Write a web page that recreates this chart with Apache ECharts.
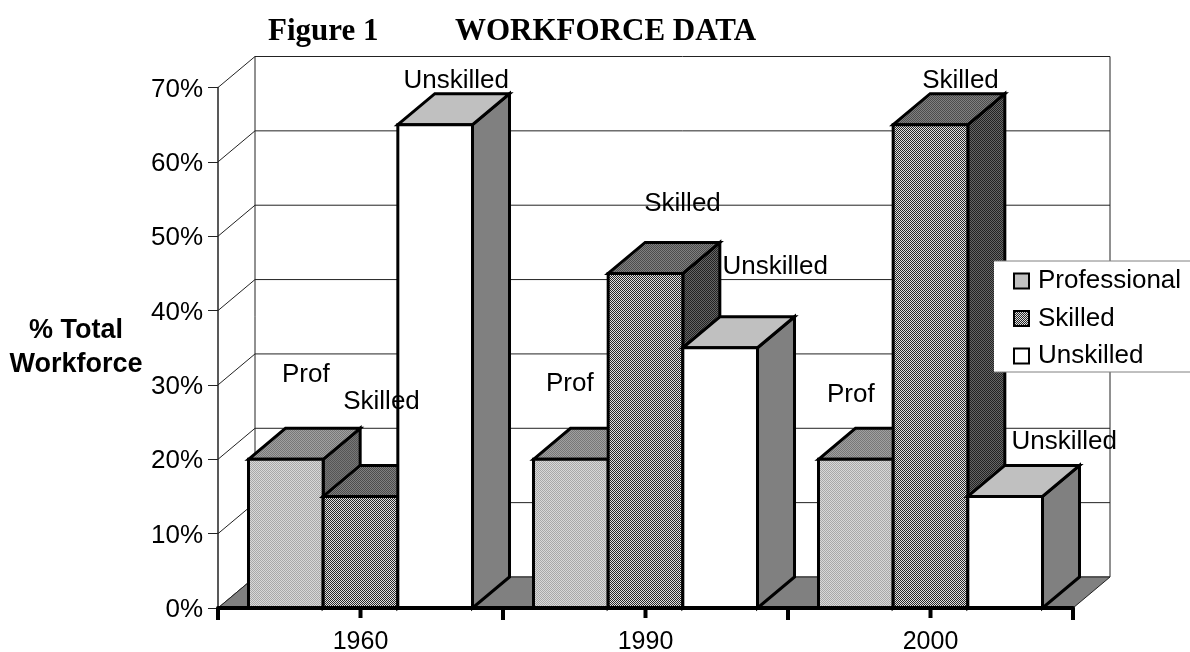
<!DOCTYPE html>
<html>
<head>
<meta charset="utf-8">
<title>Workforce data</title>
<style>
  html, body { margin: 0; padding: 0; background: #fff; }
  #chart { width: 1190px; height: 652px; }
</style>
</head>
<body>
<div id="chart"></div>
<script src="https://cdn.jsdelivr.net/npm/echarts@6/dist/echarts.min.js"></script>
<script>
// data
var years = ['1960', '1990', '2000'];
var seriesNames = ['Professional', 'Skilled', 'Unskilled'];
var professional = [20, 20, 20];
var skilled = [15, 45, 65];
var unskilled = [65, 35, 15];
var labelNames = ['Prof', 'Skilled', 'Unskilled'];
var percentTicks = [0, 10, 20, 30, 40, 50, 60, 70];

// 3d depth of the box, in px
var DEPTH_X = 37;
var DEPTH_Y = -31;
var FONT = '"Liberation Sans", Arial, sans-serif';
var SERIF = '"Liberation Serif", serif';

// hand placed labels, same order as the series: offset from bar's top centre
var labelOffsets = [
  [[20, -84], [-1, -75], [-5, -64]],
  [[21, -95], [37, -70], [30, -44]],
  [[21, -44], [55, -81], [59, -55]]
];

function dither(a, b, size) {
  // checker tile, used for the old office style hatch fills
  var c = document.createElement('canvas');
  c.width = c.height = size * 2;
  var ctx = c.getContext('2d');
  ctx.fillStyle = a;
  ctx.fillRect(0, 0, size * 2, size * 2);
  ctx.fillStyle = b;
  ctx.fillRect(0, 0, size, size);
  ctx.fillRect(size, size, size, size);
  return { image: c, repeat: 'repeat' };
}

var faces = [
  { front: dither('#d8d8d8', '#a8a8a8', 1), top: dither('#a0a0a0', '#777777', 1), side: dither('#777777', '#555555', 1) },
  { front: dither('#e0e0e0', '#282828', 1), top: dither('#808080', '#4c4c4c', 1), side: dither('#666666', '#222222', 1) },
  { front: '#ffffff', top: '#c0c0c0', side: '#808080' }
];

function poly(points, fill) {
  return {
    type: 'polygon',
    shape: { points: points },
    style: { fill: fill, stroke: '#000', lineWidth: 3, lineJoin: 'miter' }
  };
}

function barRenderer(seriesIdx) {
  return function (params, api) {
    var i = api.value(0);
    var base = api.coord([i, 0]);
    var top = api.coord([i, api.value(1)]);
    var w = api.size([1, 0])[0] * 0.262;
    var l = base[0] + (seriesIdx - 1.5) * w;
    var r = l + w;
    var f = faces[seriesIdx];
    return {
      type: 'group',
      children: [
        poly([[r, top[1]], [r + DEPTH_X, top[1] + DEPTH_Y], [r + DEPTH_X, base[1] + DEPTH_Y], [r, base[1]]], f.side),
        poly([[l, top[1]], [l + DEPTH_X, top[1] + DEPTH_Y], [r + DEPTH_X, top[1] + DEPTH_Y], [r, top[1]]], f.top),
        poly([[l, top[1]], [r, top[1]], [r, base[1]], [l, base[1]]], f.front)
      ]
    };
  };
}

function thin(x1, y1, x2, y2, color) {
  return {
    type: 'line',
    shape: { x1: x1, y1: y1, x2: x2, y2: y2 },
    style: { stroke: color || '#222', lineWidth: 1 }
  };
}

// back wall, side wall, floor and the short ticks under each category
function renderFrame(params, api) {
  var grid = params.coordSys;
  var xl = grid.x;
  var xr = grid.x + grid.width;
  var y0 = api.coord([0, 0])[1];
  var children = [];
  percentTicks.forEach(function (t) {
    var y = api.coord([0, t])[1];
    children.push(thin(xl, y, xl + DEPTH_X, y + DEPTH_Y));
    children.push(thin(xl + DEPTH_X, y + DEPTH_Y, xr + DEPTH_X, y + DEPTH_Y));
  });
  var yTop = api.coord([0, percentTicks[percentTicks.length - 1]])[1];
  children.push(thin(xl + DEPTH_X, yTop + DEPTH_Y, xl + DEPTH_X, y0 + DEPTH_Y));
  children.push(thin(xr + DEPTH_X, yTop + DEPTH_Y, xr + DEPTH_X, y0 + DEPTH_Y));
  children.push({
    type: 'polygon',
    shape: { points: [[xl, y0], [xl + DEPTH_X, y0 + DEPTH_Y], [xr + DEPTH_X, y0 + DEPTH_Y], [xr, y0]] },
    style: { fill: '#808080', stroke: '#222', lineWidth: 1 }
  });
  years.forEach(function (y, i) {
    var x = api.coord([i, 0])[0];
    children.push({
      type: 'line',
      shape: { x1: x, y1: y0, x2: x, y2: y0 + 10 },
      style: { stroke: '#000', lineWidth: 4 }
    });
  });
  return { type: 'group', children: children };
}

function renderLabel(params, api) {
  var s = api.value(2);
  var c = api.value(0);
  var p = api.coord([c, api.value(1)]);
  var w = api.size([1, 0])[0] * 0.262;
  var off = labelOffsets[s][c];
  return {
    type: 'text',
    style: {
      text: labelNames[s],
      x: p[0] + (s - 1) * w + off[0],
      y: p[1] + off[1],
      align: 'center',
      verticalAlign: 'middle',
      fill: '#000',
      font: '26px ' + FONT
    }
  };
}

var seriesValues = [professional, skilled, unskilled];

var labelData = [];
seriesValues.forEach(function (vals, s) {
  vals.forEach(function (v, c) {
    labelData.push([c, v, s]);
  });
});

var barSeries = seriesNames.map(function (name, s) {
  return {
    name: name,
    type: 'custom',
    z: 3 + s,
    itemStyle: { color: faces[s].front, borderColor: '#000', borderWidth: 2 },
    encode: { x: 0, y: 1 },
    data: seriesValues[s].map(function (v, c) { return [c, v]; }),
    renderItem: barRenderer(s)
  };
});

var chart = echarts.init(document.getElementById('chart'));
chart.setOption({
  animation: false,
  backgroundColor: '#fff',
  title: [
    { text: 'Figure 1', left: 263, top: 11, textStyle: { fontFamily: SERIF, fontWeight: 'bold', fontSize: 31, color: '#000' } },
    { text: 'WORKFORCE DATA', left: 450, top: 11, textStyle: { fontFamily: SERIF, fontWeight: 'bold', fontSize: 31, color: '#000' } }
  ],
  legend: {
    data: seriesNames.map(function (name, s) {
      return { name: name, icon: 'rect', itemStyle: { color: faces[s].front, borderColor: '#000', borderWidth: 2 } };
    }),
    orient: 'vertical',
    left: 1003,
    top: 261,
    padding: [7, 0, 2, 10],
    itemWidth: 15,
    itemHeight: 15,
    itemGap: 11.5,
    z: 10,
    textStyle: { fontFamily: FONT, fontSize: 26, color: '#000', padding: [0, 0, 0, 4] },
    selectedMode: false
  },
  graphic: [
    { type: 'rect', z: 9, shape: { x: 994, y: 261, width: 200, height: 111 }, style: { fill: '#fff' } },
    { type: 'line', z: 9, shape: { x1: 994, y1: 261, x2: 1190, y2: 261 }, style: { stroke: '#808080', lineWidth: 1 } },
    { type: 'line', z: 9, shape: { x1: 994, y1: 372, x2: 1190, y2: 372 }, style: { stroke: '#808080', lineWidth: 1 } }
  ],
  grid: { left: 218, right: 117, top: 87.5, bottom: 44, outerBoundsMode: 'none' },
  xAxis: {
    type: 'category',
    data: years,
    z: 8,
    axisLine: { lineStyle: { color: '#000', width: 4 } },
    axisTick: { show: true, length: 12, lineStyle: { color: '#000', width: 4 } },
    axisLabel: { fontFamily: FONT, fontSize: 25, color: '#000', margin: 22 }
  },
  yAxis: {
    type: 'value',
    min: 0,
    max: 70,
    interval: 10,
    splitLine: { show: false },
    name: '% Total\nWorkforce',
    nameLocation: 'middle',
    nameRotate: 0,
    nameGap: 142,
    nameTextStyle: { fontFamily: FONT, fontWeight: 'bold', fontSize: 27, color: '#000', lineHeight: 34, align: 'center', padding: [92, 0, 0, 0] },
    axisLine: { show: true, lineStyle: { color: '#222', width: 1.5 } },
    axisTick: { show: true, length: 10, lineStyle: { color: '#222', width: 1 } },
    axisLabel: {
      margin: 15,
      formatter: '{v|{value}%}',
      rich: { v: { fontFamily: FONT, fontSize: 26, color: '#000', padding: [4, 0, 0, 0] } }
    }
  },
  series: [
    { type: 'custom', z: 1, silent: true, encode: { x: 0, y: 1 }, data: [[0, 0]], renderItem: renderFrame }
  ].concat(barSeries, [
    { type: 'custom', z: 7, silent: true, encode: { x: 0, y: 1 }, data: labelData, renderItem: renderLabel }
  ])
});
</script>
</body>
</html>
